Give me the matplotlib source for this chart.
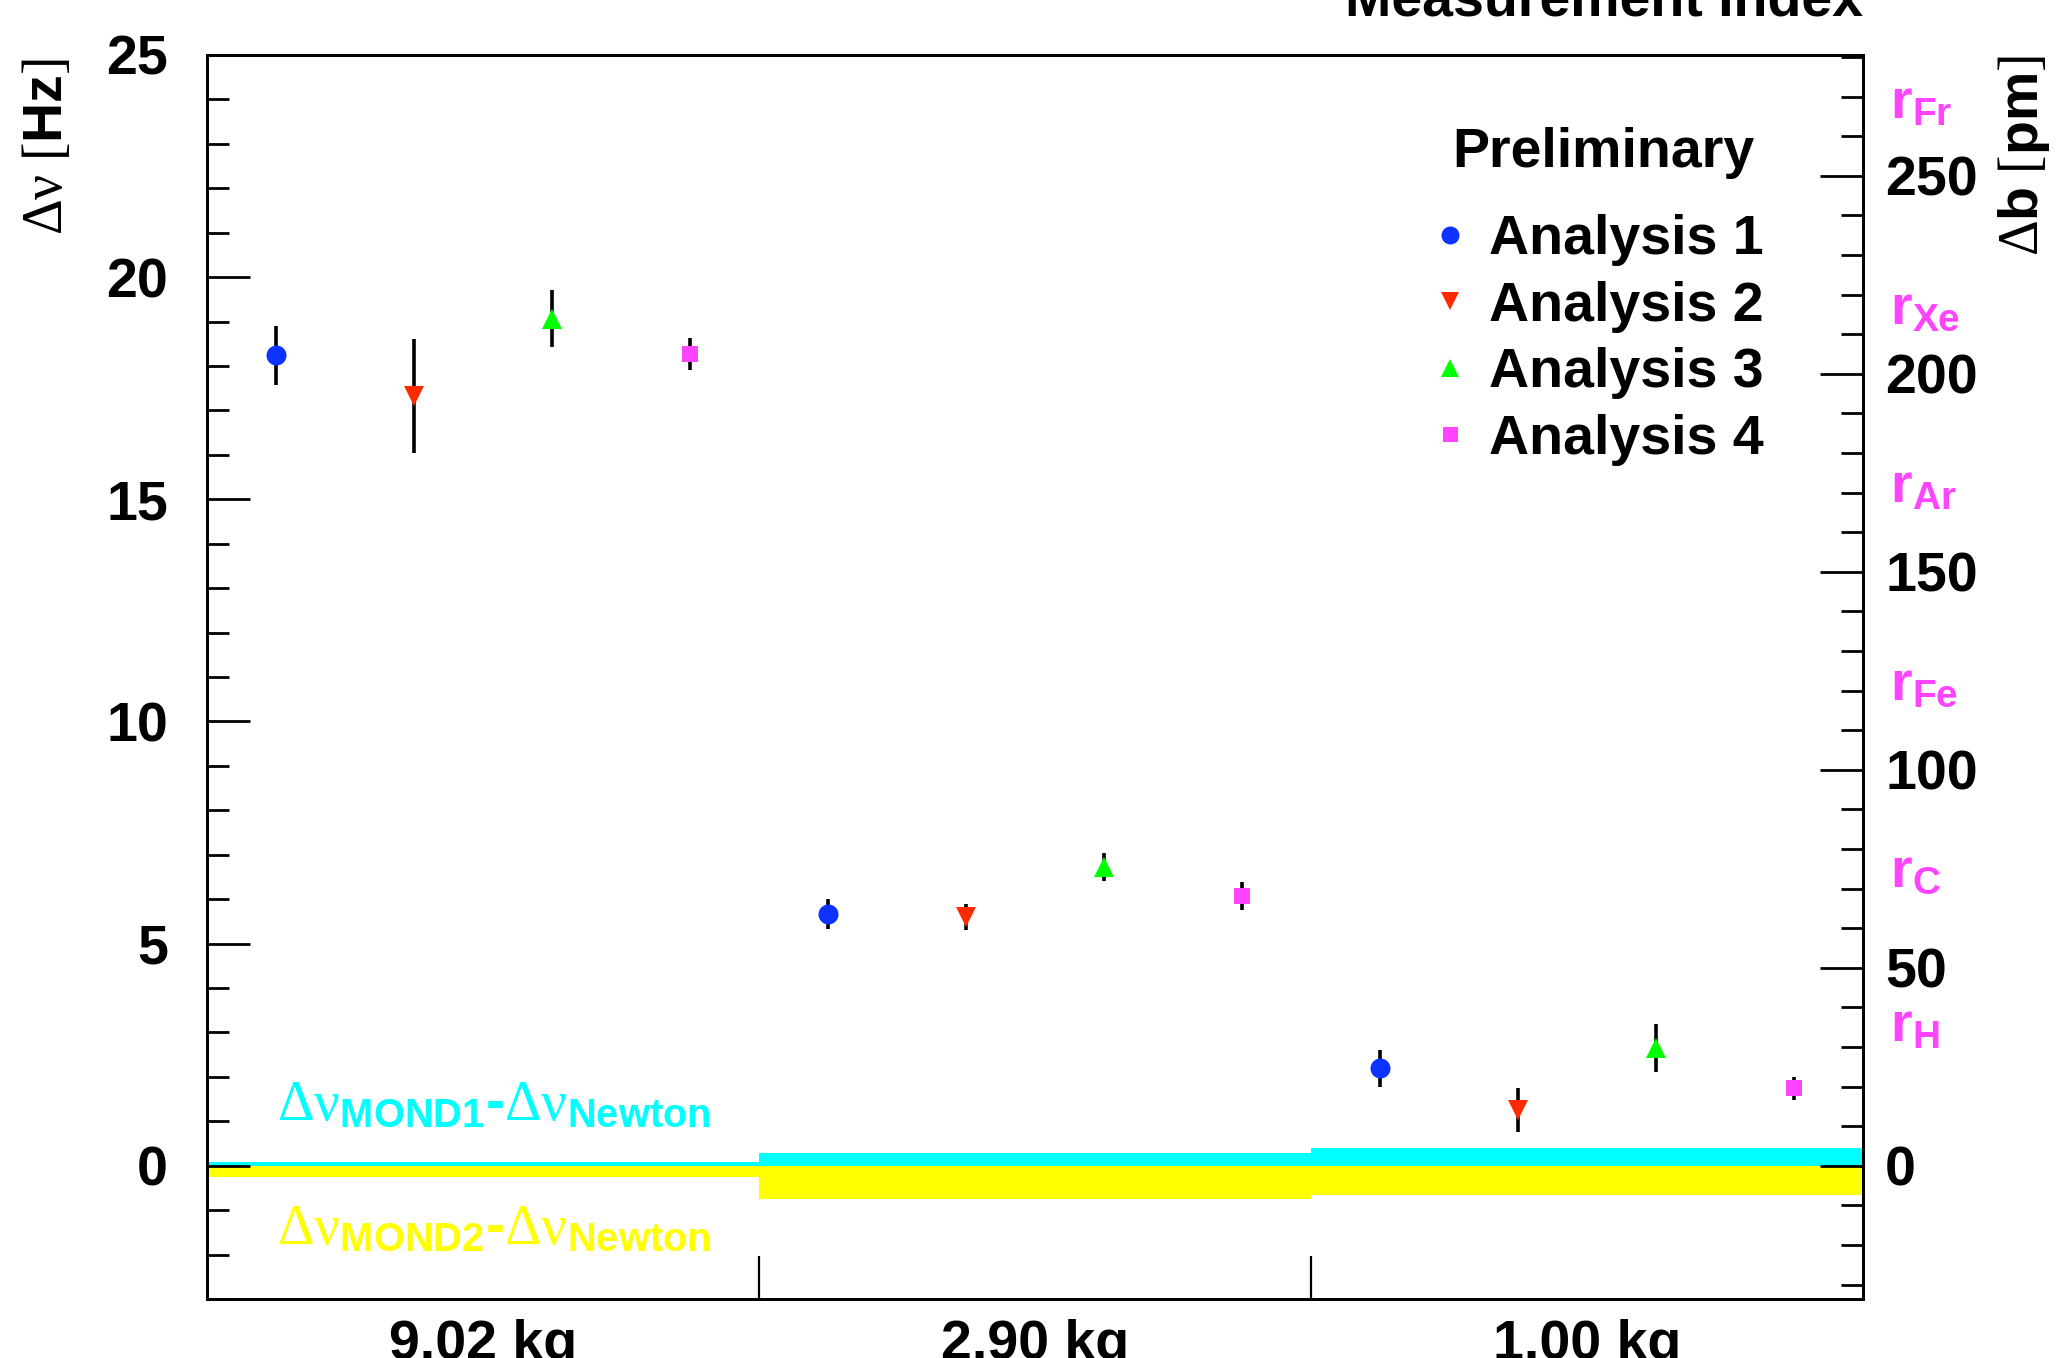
import numpy as np
import matplotlib
matplotlib.use("Agg")
import matplotlib.pyplot as plt

plt.rcParams['font.family'] = ['Liberation Sans', 'DejaVu Sans']
plt.rcParams['font.weight'] = 'bold'
plt.rcParams['mathtext.fontset'] = 'custom'
plt.rcParams['mathtext.rm'] = 'Liberation Serif:weight=normal'
plt.rcParams['mathtext.it'] = 'Liberation Serif:italic:weight=normal'
plt.rcParams['mathtext.bf'] = 'Liberation Sans:weight=bold'

# masses (one group of 4 measurements each)
groups = ['9.02 kg', '2.90 kg', '1.00 kg']

# delta nu [Hz] per analysis and mass, with errors
a1 = [18.24, 5.66, 2.19]
e1 = [0.67, 0.34, 0.41]
a2 = [17.33, 5.60, 1.26]
e2 = [1.28, 0.30, 0.49]
a3 = [19.06, 6.72, 2.64]
e3 = [0.64, 0.31, 0.54]
a4 = [18.27, 6.07, 1.74]
e4 = [0.35, 0.32, 0.25]

# MOND predictions relative to Newton [Hz]
mond1 = [0.08, 0.28, 0.39]
mond2 = [-0.25, -0.75, -0.65]

# atomic radii markers on the right axis [pm]
atoms = ['Fr', 'Xe', 'Ar', 'Fe', 'C', 'H']
radii = [268, 216, 171, 121, 74, 35]

pm_per_hz = 11.22

series = [
    ('Analysis 1', a1, e1, 'o', '#0c33ff', 14.4),
    ('Analysis 2', a2, e2, 'v', '#ff2a00', 13.7),
    ('Analysis 3', a3, e3, '^', '#00ff00', 13.7),
    ('Analysis 4', a4, e4, 's', '#ff44ff', 12.0),
]

fig = plt.figure(figsize=(20.57, 13.58), dpi=100)
ax = fig.add_axes([0.1006, 0.0434, 0.8051, 0.9161])

n_per_group = len(series)
group_left = np.arange(len(groups)) * n_per_group

# MOND bands
ax.bar(group_left, mond1, width=n_per_group, align='edge', color='#00ffff', zorder=1)
ax.bar(group_left, mond2, width=n_per_group, align='edge', color='#ffff00', zorder=1)

for i, (lab, vals, errs, mk, col, ms) in enumerate(series):
    xs = group_left + i + 0.5
    ax.errorbar(xs, vals, yerr=errs, fmt='none', ecolor='black', elinewidth=2.6, capsize=0, zorder=2)
    ax.plot(xs, vals, linestyle='none', marker=mk, color=col, markersize=ms,
            markeredgewidth=0, label=lab, zorder=3)

ax.set_xlim(0, len(groups) * n_per_group)
ax.set_ylim(-3, 25)

ax.set_xticks(group_left + n_per_group / 2)
ax.set_xticklabels(groups)
ax.set_xticks(group_left[1:], minor=True)
ax.tick_params(axis='x', which='major', length=0, pad=14, labelsize=40)
ax.tick_params(axis='x', which='minor', length=31, width=1.6, direction='in', top=False)

ax.set_yticks(np.arange(0, 26, 5))
ax.set_yticks(np.arange(-3, 26, 1), minor=True)
ax.tick_params(axis='y', which='major', length=31, width=2, direction='in', pad=28, labelsize=40)
ax.tick_params(axis='y', which='minor', length=16, width=2, direction='in')

for s in ax.spines.values():
    s.set_linewidth(2.0)

ax2 = ax.twinx()
ax2.set_ylim(-3 * pm_per_hz, 25 * pm_per_hz)
ax2.set_yticks(np.arange(0, 251, 50))
ax2.set_yticks(np.arange(-30, 281, 10), minor=True)
ax2.tick_params(axis='y', which='major', length=31, width=2, direction='in', pad=16, labelsize=40)
ax2.tick_params(axis='y', which='minor', length=16, width=2, direction='in')
for s in ax2.spines.values():
    s.set_linewidth(2.0)

for name, r in zip(atoms, radii):
    ax2.text(1.0165, r, r'$\mathbf{r}_{\mathbf{' + name + '}}$', transform=ax2.get_yaxis_transform(),
             color='#ff44ff', fontsize=40, ha='left', va='center')

ax.text(0.51, 1.02, r'$\mathrm{\Delta\nu}_{\mathbf{MOND1}}$-$\mathrm{\Delta\nu}_{\mathbf{Newton}}$',
        color='#00ffff', fontsize=41, ha='left', va='baseline')
ax.text(0.51, -1.77, r'$\mathrm{\Delta\nu}_{\mathbf{MOND2}}$-$\mathrm{\Delta\nu}_{\mathbf{Newton}}$',
        color='#ffff00', fontsize=41, ha='left', va='baseline')

leg = ax.legend(loc='upper left', bbox_to_anchor=(0.742, 0.872), frameon=False,
                fontsize=40, handlelength=0.5, handletextpad=0.45, labelspacing=0.26,
                markerscale=0.9, borderpad=0, borderaxespad=0)
leg.set_zorder(5)
ax.text(1603 / 2057, 1 - 153 / 1358, 'Preliminary', transform=fig.transFigure,
        ha='center', va='center', fontsize=40)

fig.text(48 / 2057, 1 - 58 / 1358, r'$\mathrm{\Delta\nu\ [}\mathbf{Hz}\mathrm{]}$',
         rotation=90, ha='center', va='top', fontsize=40)
fig.text(2024 / 2057, 1 - 55 / 1358, r'$\mathrm{\Delta}\mathbf{b}\mathrm{\ [}\mathbf{pm}\mathrm{]}$',
         rotation=90, ha='center', va='top', fontsize=40)
fig.text(0.9057, 1 - 16 / 1358, 'Measurement Index', ha='right', va='baseline', fontsize=40)

fig.savefig('out.png', dpi=100)
